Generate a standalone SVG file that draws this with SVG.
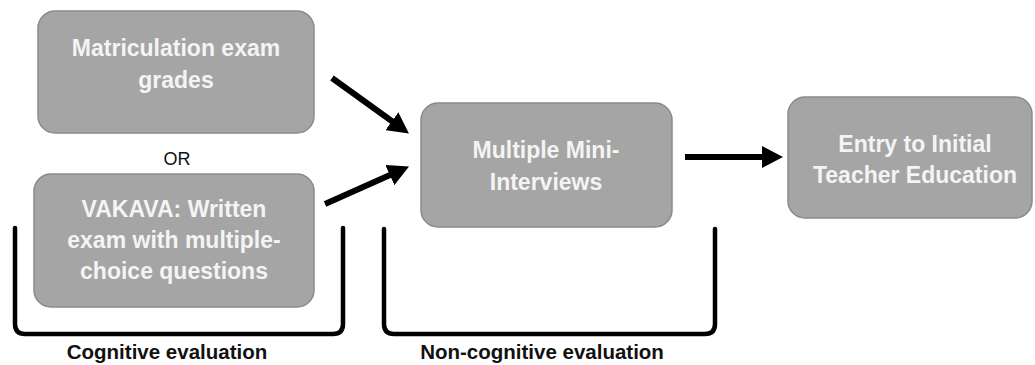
<svg xmlns="http://www.w3.org/2000/svg" width="1035" height="365" viewBox="0 0 1035 365">
<style>
.box{fill:#a5a5a5;stroke:#8a8a8a;stroke-width:1.5}
.bt{font-family:"Liberation Sans",Arial,sans-serif;font-weight:bold;font-size:23px;fill:#f4f4f4;text-anchor:middle}
.lbl{font-family:"Liberation Sans",Arial,sans-serif;font-weight:bold;font-size:20.5px;fill:#111;text-anchor:middle}
.or{font-family:"Liberation Sans",Arial,sans-serif;font-size:18px;fill:#111;text-anchor:middle}
.arr{stroke:#000;stroke-width:6;fill:none;marker-end:url(#ah)}
.br{stroke:#000;stroke-width:4.5;fill:none;stroke-linecap:round}
</style>
<defs>
<marker id="ah" markerUnits="userSpaceOnUse" markerWidth="22" markerHeight="22" refX="10" refY="11" orient="auto" viewBox="0 0 22 22">
<path d="M0,0 L21,11 L0,22 z" fill="#000"/>
</marker>
</defs>
<rect width="1035" height="365" fill="#fff"/>
<g id="matriculation">
<rect class="box" x="38" y="11" width="276" height="122" rx="17"/>
<text class="bt" x="176" y="56">Matriculation exam</text>
<text class="bt" x="176" y="88">grades</text>
</g>
<g id="or">
<text class="or" x="177" y="165">OR</text>
</g>
<g id="vakava">
<rect class="box" x="34" y="174" width="280" height="133" rx="17"/>
<text class="bt" x="174" y="217">VAKAVA: Written</text>
<text class="bt" x="174" y="248">exam with multiple-</text>
<text class="bt" x="174" y="279">choice questions</text>
</g>
<g id="mmi">
<rect class="box" x="421" y="103" width="251" height="124" rx="17"/>
<text class="bt" x="546" y="158">Multiple Mini-</text>
<text class="bt" x="546" y="190">Interviews</text>
</g>
<g id="entry">
<rect class="box" x="788" y="97" width="244" height="121" rx="17"/>
<text class="bt" x="915" y="152">Entry to Initial</text>
<text class="bt" x="915" y="183">Teacher Education</text>
</g>
<g id="connectors">
<line class="arr" x1="332" y1="78" x2="400" y2="127"/>
<line class="arr" x1="325" y1="204" x2="399" y2="171"/>
<line class="arr" x1="685" y1="157" x2="772" y2="157"/>
</g>
<g id="cognitive-bracket">
<path class="br" d="M15,228 L15,324 Q15,334 25,334 L333,334 Q343,334 343,324 L343,228"/>
<text class="lbl" x="167" y="359">Cognitive evaluation</text>
</g>
<g id="noncognitive-bracket">
<path class="br" d="M384,229 L384,324 Q384,334 394,334 L705,334 Q715,334 715,324 L715,229"/>
<text class="lbl" x="542" y="359">Non-cognitive evaluation</text>
</g>
</svg>
